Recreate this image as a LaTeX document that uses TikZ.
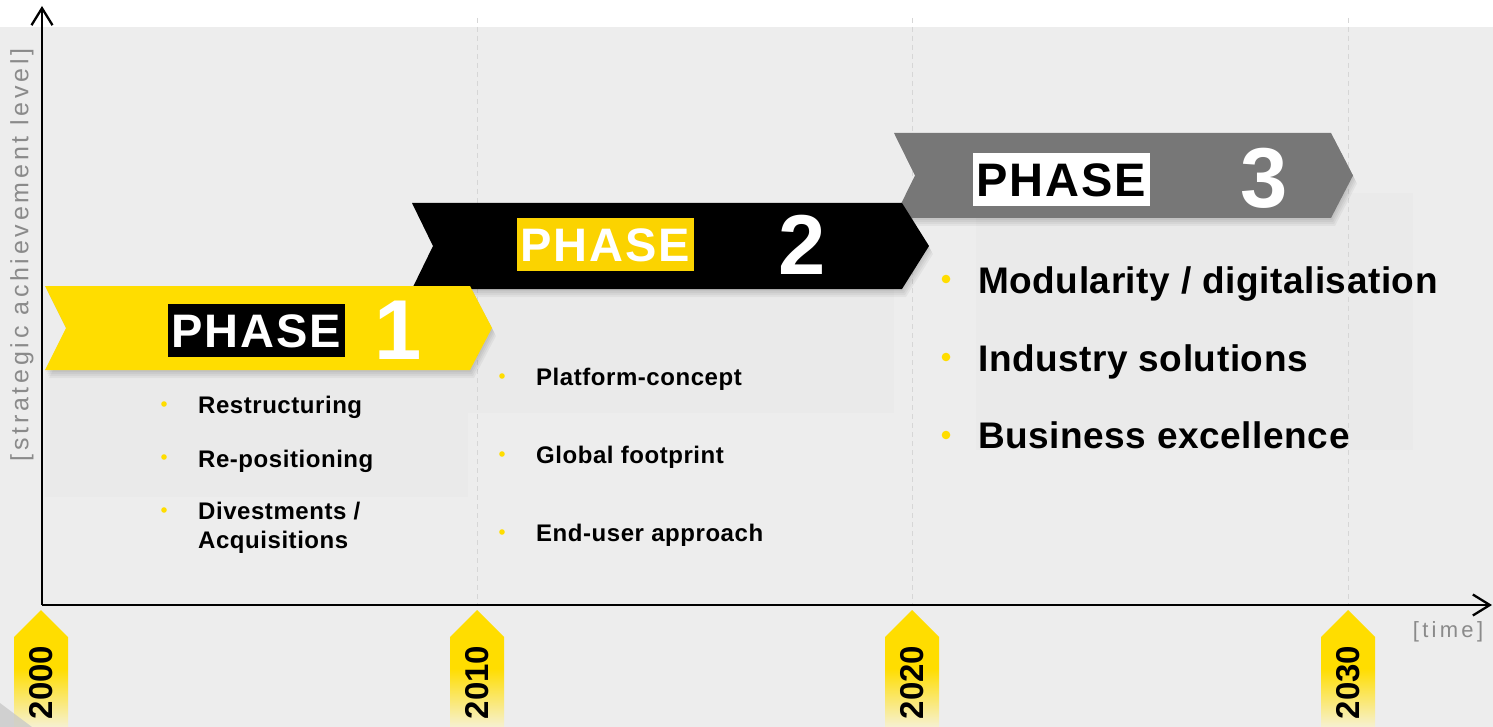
\documentclass[tikz,border=0pt]{standalone}
\usepackage{fontspec}
\setmainfont{Liberation Sans}
\newfontfamily\spacedfont[LetterSpace=15]{Liberation Sans}
\newfontfamily\phasefont[LetterSpace=4]{Liberation Sans}
\newfontfamily\itemfont[LetterSpace=2.3]{Liberation Sans}
\newfontfamily\bigitemfont[LetterSpace=1.5]{Liberation Sans}
\usetikzlibrary{arrows.meta}
\definecolor{bg}{HTML}{EDEDED}
\definecolor{panel}{HTML}{EAEAEA}
\definecolor{yel}{HTML}{FFDD00}
\definecolor{yelbox}{HTML}{FBD300}
\definecolor{pale}{HTML}{F6F1D2}
\definecolor{pthree}{HTML}{777777}
\definecolor{labgray}{HTML}{8A8A8A}
\definecolor{gridc}{HTML}{D6D6D6}
\newcommand\ribbon[7]{% #1 options, #2 L, #3 notch, #4 R, #5 tip, #6 top, #7 bottom
  \path[#1] (#2,#6) -- (#4,#6) -- (#5,{(#6+#7)/2}) -- (#4,#7) -- (#2,#7) -- (#3,{(#6+#7)/2}) -- cycle;}
\newcommand\ribbonshadow[6]{%
  \foreach \s in {1,2,3,4}{\ribbon{fill=black,opacity=0.045,shift={(\s,2*\s)}}{#1}{#2}{#3}{#4}{#5}{#6}}}
\tikzset{
  axisline/.style={line width=2.3pt,-{Straight Barb[length=17pt,width=21pt]}},
  gridline/.style={draw=gridc,line width=1pt,dash pattern=on 5pt off 4pt},
  phasebox/.style={font=\phasefont\bfseries\fontsize{47}{50}\selectfont,minimum width=177pt,minimum height=53pt,inner sep=0pt,text height=33.7pt,text depth=0pt},
  num/.style={font=\bfseries\fontsize{85}{90}\selectfont,text=white,inner sep=0pt,text height=61pt,text depth=0pt},
  itemsmall/.style={font=\itemfont\bfseries\fontsize{24}{29}\selectfont,anchor=base west,inner sep=0pt,align=left},
  itembig/.style={font=\bigitemfont\bfseries\fontsize{37}{44}\selectfont,anchor=base west,inner sep=0pt},
  yeartext/.style={font=\bfseries\fontsize{33}{36}\selectfont,rotate=90,inner sep=0pt,text height=23.6pt,text depth=0pt},
  axislabel/.style={text=labgray,inner sep=0pt}
}
\begin{document}
\begin{tikzpicture}[x=1pt,y=-1pt]
\useasboundingbox (0,0) rectangle (1493,727);
\fill[white] (0,0) rectangle (1493,27);
\fill[bg] (0,27) rectangle (1493,727);
% subtle panels
\fill[panel] (45,370) rectangle (468,497);
\fill[panel] (467,289) rectangle (894,413);
\fill[panel] (976,193) rectangle (1413,450);
% grid lines
\foreach \gx/\gn in {477/a,912/b,1348/c}{
  \coordinate (gt\gn) at (\gx,18);
  \coordinate (gb\gn) at (\gx,605);
  \draw[gridline] (gt\gn) -- (gb\gn);
}
% phase 3
\ribbonshadow{894}{915}{1331}{1353}{133}{218}
\ribbon{fill=pthree}{894}{915}{1331}{1353}{133}{218}
\node[phasebox,fill=white,text=black] (p3label) at (1061.5,180) {PHASE};
\node[num] (n3) at (1264,177.5) {3};
% phase 2
\ribbonshadow{412}{433}{902}{929}{203}{289}
\ribbon{fill=black}{412}{433}{902}{929}{203}{289}
\node[phasebox,fill=yelbox,text=white] (p2label) at (605.5,245) {PHASE};
\node[num] (n2) at (802.5,244) {2};
% phase 1
\ribbonshadow{45}{66}{470}{492}{286}{370}
\ribbon{fill=yel}{45}{66}{470}{492}{286}{370}
\node[phasebox,fill=black,text=white] (p1label) at (256.5,330.5) {PHASE};
\node[num] (n1) at (398,329) {1};
% phase 1 items
\fill[yel] (164,404) circle (2.8);
\fill[yel] (164,457) circle (2.8);
\fill[yel] (164,510) circle (2.8);
\node[itemsmall] (i11) at (198,413) {Restructuring};
\node[itemsmall] (i12) at (198,467) {Re-positioning};
\node[itemsmall] (i13) at (198,519) {Divestments /};
\node[itemsmall] (i14) at (198,548) {Acquisitions};
% phase 2 items
\fill[yel] (502,376) circle (2.8);
\fill[yel] (502,454) circle (2.8);
\fill[yel] (502,532) circle (2.8);
\node[itemsmall] (i21) at (536,385) {Platform-concept};
\node[itemsmall] (i22) at (536,463) {Global footprint};
\node[itemsmall] (i23) at (536,541) {End-user approach};
% phase 3 items
\fill[yel] (946,279) circle (4.3);
\fill[yel] (946,357) circle (4.3);
\fill[yel] (946,435) circle (4.3);
\node[itembig] (i31) at (978,293) {Modularity / digitalisation};
\node[itembig] (i32) at (978,371) {Industry solutions};
\node[itembig] (i33) at (978,448) {Business excellence};
% axes
\coordinate (origin) at (42,605);
\coordinate (ytop) at (42,6);
\coordinate (xend) at (1492,605);
\draw[axisline] (origin) -- (ytop);
\draw[axisline] (origin) -- (xend);
\node[axislabel,rotate=90,font=\spacedfont\fontsize{25}{30}\selectfont] (ylab) at (22,255) {[strategic achievement level]};
\node[axislabel,font=\spacedfont\fontsize{22}{26}\selectfont] (xlab) at (1448,632) {[time]};
% year tags
\foreach \tx/\yr in {41/2000,477/2010,912/2020,1348/2030}{
  \path[top color=yel,bottom color=pale,middle color=yel] ({\tx-27},637) -- (\tx,610) -- ({\tx+27},637) -- ({\tx+27},727) -- ({\tx-27},727) -- cycle;
  \node[yeartext] (y\yr) at (\tx,682.5) {\yr};
}
% corner fold
\fill[black!22,opacity=0.75] (0,703) -- (32,727) -- (0,727) -- cycle;
\end{tikzpicture}
\end{document}
